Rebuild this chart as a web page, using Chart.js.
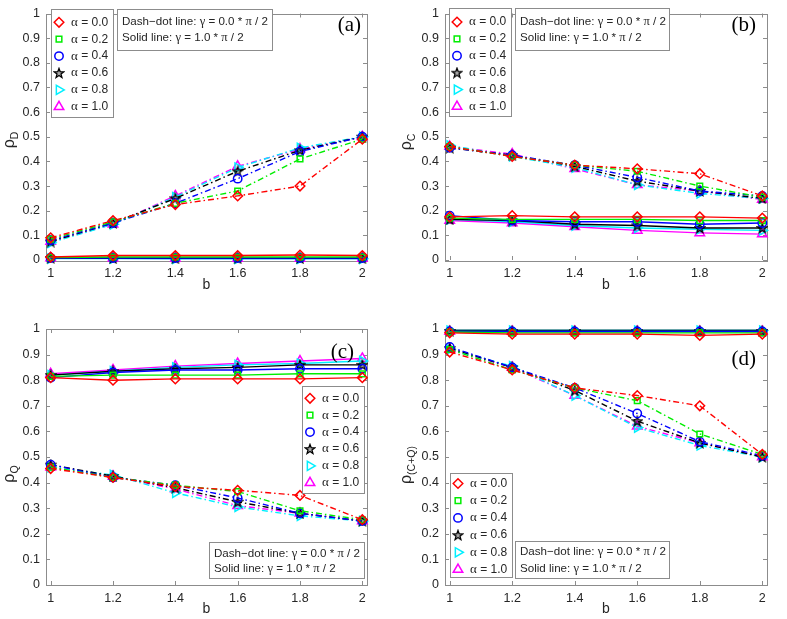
<!DOCTYPE html>
<html><head><meta charset="utf-8">
<script src="https://cdn.jsdelivr.net/npm/chart.js@4.4.1/dist/chart.umd.min.js"></script>
<style>
html,body{margin:0;padding:0;background:#fff;width:787px;height:619px;overflow:hidden}
.p{position:absolute}
canvas{display:block}
</style></head><body>
<div class="p" style="left:0;top:0"><canvas id="cA" width="393" height="300"></canvas></div>
<div class="p" style="left:397px;top:0"><canvas id="cB" width="390" height="300"></canvas></div>
<div class="p" style="left:0;top:300px"><canvas id="cC" width="393" height="319"></canvas></div>
<div class="p" style="left:397px;top:300px"><canvas id="cD" width="390" height="319"></canvas></div>
<script>
// ---------- data ----------
const bValues = [1, 1.2, 1.4, 1.6, 1.8, 2];
const xTicks = [1, 1.2, 1.4, 1.6, 1.8, 2];
const yTicks = [0, 0.1, 0.2, 0.3, 0.4, 0.5, 0.6, 0.7, 0.8, 0.9, 1];
const alphaLabels = ['0.0', '0.2', '0.4', '0.6', '0.8', '1.0'];
const gammaLabels = ['0.0', '1.0'];

// panel (a) rho_D ; rows = alpha 0.0 .. 1.0
const rhoD_dashdot = [
  [0.09, 0.16, 0.225, 0.26, 0.30, 0.49],
  [0.085, 0.155, 0.23, 0.28, 0.41, 0.49],
  [0.08, 0.15, 0.23, 0.33, 0.44, 0.50],
  [0.075, 0.15, 0.25, 0.36, 0.445, 0.50],
  [0.07, 0.145, 0.255, 0.375, 0.455, 0.50],
  [0.075, 0.145, 0.26, 0.38, 0.45, 0.50]
];
const rhoD_solid = [
  [0.012, 0.018, 0.018, 0.018, 0.02, 0.018],
  [0.01, 0.012, 0.012, 0.012, 0.012, 0.012],
  [0.008, 0.008, 0.008, 0.008, 0.008, 0.008],
  [0.008, 0.007, 0.007, 0.007, 0.007, 0.007],
  [0.006, 0.006, 0.005, 0.005, 0.005, 0.005],
  [0.008, 0.007, 0.006, 0.006, 0.006, 0.006]
];
// panel (b) rho_C
const rhoC_dashdot = [
  [0.46, 0.42, 0.385, 0.37, 0.35, 0.26],
  [0.46, 0.42, 0.385, 0.36, 0.30, 0.255],
  [0.455, 0.425, 0.385, 0.335, 0.28, 0.26],
  [0.455, 0.425, 0.38, 0.32, 0.28, 0.25],
  [0.465, 0.42, 0.375, 0.305, 0.27, 0.25],
  [0.46, 0.43, 0.37, 0.305, 0.28, 0.245]
];
const rhoC_solid = [
  [0.175, 0.18, 0.175, 0.175, 0.175, 0.17],
  [0.17, 0.165, 0.165, 0.165, 0.16, 0.16],
  [0.18, 0.16, 0.155, 0.155, 0.145, 0.15],
  [0.165, 0.16, 0.145, 0.14, 0.13, 0.13],
  [0.165, 0.155, 0.14, 0.13, 0.125, 0.12],
  [0.16, 0.15, 0.135, 0.12, 0.11, 0.105]
];
// panel (c) rho_Q
const rhoQ_dashdot = [
  [0.455, 0.42, 0.385, 0.37, 0.35, 0.255],
  [0.46, 0.42, 0.39, 0.365, 0.29, 0.255],
  [0.47, 0.42, 0.39, 0.34, 0.28, 0.25],
  [0.47, 0.425, 0.38, 0.325, 0.28, 0.25],
  [0.46, 0.43, 0.36, 0.305, 0.27, 0.25],
  [0.46, 0.425, 0.375, 0.31, 0.28, 0.25]
];
const rhoQ_solid = [
  [0.81, 0.80, 0.805, 0.805, 0.805, 0.81],
  [0.815, 0.82, 0.82, 0.82, 0.825, 0.825],
  [0.81, 0.83, 0.84, 0.84, 0.845, 0.845],
  [0.82, 0.835, 0.845, 0.85, 0.86, 0.86],
  [0.82, 0.835, 0.85, 0.86, 0.865, 0.875],
  [0.825, 0.84, 0.855, 0.865, 0.875, 0.885]
];
// panel (d) rho_(C+Q)
const rhoCQ_dashdot = [
  [0.91, 0.84, 0.77, 0.74, 0.70, 0.51],
  [0.92, 0.84, 0.77, 0.72, 0.59, 0.51],
  [0.93, 0.85, 0.77, 0.67, 0.56, 0.505],
  [0.925, 0.85, 0.76, 0.64, 0.555, 0.50],
  [0.92, 0.855, 0.74, 0.615, 0.545, 0.50],
  [0.92, 0.85, 0.74, 0.62, 0.555, 0.50]
];
const rhoCQ_solid = [
  [0.985, 0.98, 0.98, 0.98, 0.975, 0.98],
  [0.988, 0.985, 0.985, 0.985, 0.985, 0.985],
  [0.99, 0.99, 0.99, 0.99, 0.99, 0.99],
  [0.992, 0.992, 0.992, 0.992, 0.992, 0.992],
  [0.994, 0.994, 0.994, 0.994, 0.994, 0.994],
  [0.99, 0.99, 0.99, 0.99, 0.99, 0.99]
];

// ---------- styles ----------
const COLORS = ['#ff0000', '#00ee00', '#0000ff', '#000000', '#00f0ff', '#ff00ff'];
const SANS = '"Liberation Sans", Arial, Helvetica, sans-serif';
const SERIF = '"Liberation Serif", "Times New Roman", serif';
const AXIS_COLOR = '#8c8c8c';
const LABEL_COLOR = '#262626';

function makeStar() {
  const c = document.createElement('canvas');
  c.width = 12; c.height = 12;
  const g = c.getContext('2d');
  g.translate(6, 6.4);
  g.beginPath();
  for (let k = 0; k < 10; k++) {
    const r = k % 2 ? 2.1 : 5.0;
    const ang = -Math.PI / 2 + k * Math.PI / 5;
    g.lineTo(r * Math.cos(ang), r * Math.sin(ang));
  }
  g.closePath();
  g.fillStyle = 'rgba(0,0,0,0.35)';
  g.fill();
  g.lineWidth = 1.3;
  g.strokeStyle = '#000';
  g.stroke();
  return c;
}
const STAR = makeStar();
const MARKERS = [
  { style: 'rectRot', rot: 0, r: 4.8 },
  { style: 'rect', rot: 0, r: 4.0 },
  { style: 'circle', rot: 0, r: 4.2 },
  { style: STAR, rot: 0, r: 5 },
  { style: 'triangle', rot: 90, r: 5.3 },
  { style: 'triangle', rot: 0, r: 5.5 }
];
const DASHDOT = [6, 3, 1.5, 3];

function richText(ctx, parts, x, y) {
  for (const [t, f] of parts) {
    ctx.font = f;
    ctx.fillText(t, x, y);
    x += ctx.measureText(t).width;
  }
}

const decor = {
  id: 'decor',
  beforeDatasetsDraw(chart) {
    const ctx = chart.ctx, a = chart.chartArea;
    ctx.save();
    ctx.strokeStyle = AXIS_COLOR;
    ctx.lineWidth = 1;
    ctx.strokeRect(Math.round(a.left) + 0.5, Math.round(a.top) + 0.5, Math.round(a.right - a.left), Math.round(a.bottom - a.top));
    const xs = chart.scales.x, ys = chart.scales.y, TL = 4;
    ctx.beginPath();
    for (const v of xTicks) {
      const px = Math.round(xs.getPixelForValue(v)) + 0.5;
      ctx.moveTo(px, a.bottom); ctx.lineTo(px, a.bottom - TL);
      ctx.moveTo(px, a.top); ctx.lineTo(px, a.top + TL);
    }
    for (const v of yTicks) {
      const py = Math.round(ys.getPixelForValue(v)) + 0.5;
      ctx.moveTo(a.left, py); ctx.lineTo(a.left + TL, py);
      ctx.moveTo(a.right, py); ctx.lineTo(a.right - TL, py);
    }
    ctx.stroke();
    ctx.restore();
  },
  afterDraw(chart, args, o) {
    const ctx = chart.ctx, a = chart.chartArea;
    ctx.save();
    // x title
    ctx.fillStyle = LABEL_COLOR;
    ctx.font = '14px ' + SANS;
    ctx.textAlign = 'center'; ctx.textBaseline = 'middle';
    ctx.fillText('b', (a.left + a.right) / 2, a.bottom + o.xTitleOff);
    // y title (rotated)
    ctx.save();
    ctx.translate(o.yTitle[0], o.yTitle[1]);
    ctx.rotate(-Math.PI / 2);
    ctx.textAlign = 'left'; ctx.textBaseline = 'alphabetic';
    ctx.font = '16px ' + SANS;
    const w1 = ctx.measureText('ρ').width;
    ctx.font = '10.5px ' + SANS;
    const w2 = ctx.measureText(o.sub).width;
    let x0 = -(w1 + w2) / 2;
    ctx.font = '16px ' + SANS;
    ctx.fillText('ρ', x0, 0);
    ctx.font = '10.5px ' + SANS;
    ctx.fillText(o.sub, x0 + w1, 4);
    ctx.restore();
    // panel letter
    ctx.font = '21px ' + SERIF;
    ctx.textAlign = 'right'; ctx.textBaseline = 'middle';
    ctx.fillStyle = '#000';
    ctx.fillText(o.letter, o.letterPos[0], o.letterPos[1]);
    // alpha legend
    const L = o.alphaBox;
    ctx.fillStyle = '#fff';
    ctx.fillRect(L.x, L.y, L.w, L.h);
    ctx.strokeStyle = AXIS_COLOR; ctx.lineWidth = 1;
    ctx.strokeRect(L.x + 0.5, L.y + 0.5, L.w, L.h);
    ctx.textAlign = 'left'; ctx.textBaseline = 'middle';
    for (let i = 0; i < 6; i++) {
      const cy = L.y + L.first + i * L.step;
      const m = MARKERS[i];
      ctx.save();
      ctx.strokeStyle = COLORS[i];
      ctx.fillStyle = 'rgba(0,0,0,0)';
      ctx.lineWidth = 1.5;
      Chart.helpers.drawPoint(ctx, { pointStyle: m.style, rotation: m.rot, radius: m.r, borderWidth: 1.5 }, L.x + 8, cy);
      ctx.restore();
      ctx.fillStyle = LABEL_COLOR;
      richText(ctx, [['α', '13px ' + SERIF], [' = ' + alphaLabels[i], '12px ' + SANS]], L.x + 20, cy);
    }
    // gamma legend
    const G = o.gammaBox;
    ctx.fillStyle = '#fff';
    ctx.fillRect(G.x, G.y, G.w, G.h);
    ctx.strokeStyle = AXIS_COLOR;
    ctx.strokeRect(G.x + 0.5, G.y + 0.5, G.w, G.h);
    ctx.fillStyle = LABEL_COLOR;
    const heads = ['Dash−dot line: ', 'Solid line: '];
    for (let k = 0; k < 2; k++) {
      richText(ctx, [[heads[k], '11.6px ' + SANS], ['γ', '12.5px ' + SERIF], [' = ' + gammaLabels[k] + ' * ', '11.6px ' + SANS], ['π', '12.5px ' + SERIF], [' / 2', '11.6px ' + SANS]], G.x + 5, G.y + G.first + k * G.step);
    }
    ctx.restore();
  }
};

function makePanel(id, W, H, area, dash, solid, deco) {
  const datasets = [];
  for (let i = 0; i < 6; i++) {
    const m = MARKERS[i];
    const base = {
      borderColor: COLORS[i], borderWidth: 1.4,
      pointStyle: m.style, pointRotation: m.rot, pointRadius: m.r,
      pointBorderWidth: 1.5, pointBorderColor: COLORS[i],
      pointBackgroundColor: 'rgba(0,0,0,0)', fill: false, tension: 0, clip: false
    };
    datasets.push(Object.assign({}, base, { data: bValues.map((b, j) => ({ x: b, y: dash[i][j] })), borderDash: DASHDOT }));
    datasets.push(Object.assign({}, base, { data: bValues.map((b, j) => ({ x: b, y: solid[i][j] })) }));
  }
  const tickFont = { family: SANS, size: 12.5 };
  return new Chart(document.getElementById(id), {
    type: 'line',
    data: { datasets },
    plugins: [decor],
    options: {
      responsive: false, animation: false, devicePixelRatio: 1,
      layout: { padding: { left: 0, top: area.top, right: W - area.right, bottom: 0 } },
      plugins: { legend: { display: false }, tooltip: { enabled: false }, decor: deco },
      scales: {
        x: {
          type: 'linear', min: 0.985, max: 2.015,
          afterBuildTicks: s => { s.ticks = xTicks.map(v => ({ value: v })); },
          afterFit: s => { s.height = H - area.bottom; },
          grid: { display: false, drawTicks: false }, border: { display: false },
          ticks: { padding: 6, color: LABEL_COLOR, font: tickFont, maxRotation: 0, autoSkip: false,
                   callback: v => String(Number(v.toFixed(1))) }
        },
        y: {
          type: 'linear', min: 0, max: 1,
          afterBuildTicks: s => { s.ticks = yTicks.map(v => ({ value: v })); },
          afterFit: s => { s.width = area.left; },
          grid: { display: false, drawTicks: false }, border: { display: false },
          ticks: { padding: 6, color: LABEL_COLOR, font: tickFont, autoSkip: false,
                   callback: v => String(Number(v.toFixed(1))) }
        }
      }
    }
  });
}

makePanel('cA', 393, 300, { left: 46, top: 7, right: 367, bottom: 260 }, rhoD_dashdot, rhoD_solid, {
  sub: 'D', yTitle: [14, 140], xTitleOff: 25, letter: '(a)', letterPos: [361, 25],
  alphaBox: { x: 51, y: 9, w: 62, h: 108, first: 13.3, step: 16.9 },
  gammaBox: { x: 117, y: 9, w: 155, h: 41, first: 13, step: 16 }
});
makePanel('cB', 390, 300, { left: 48, top: 7, right: 370, bottom: 260 }, rhoC_dashdot, rhoC_solid, {
  sub: 'C', yTitle: [14, 142], xTitleOff: 25, letter: '(b)', letterPos: [359, 25],
  alphaBox: { x: 52, y: 8, w: 62, h: 108, first: 14, step: 16.9 },
  gammaBox: { x: 118, y: 8, w: 154, h: 42, first: 14, step: 16 }
});
makePanel('cC', 393, 319, { left: 46, top: 29, right: 367, bottom: 285 }, rhoQ_dashdot, rhoQ_solid, {
  sub: 'Q', yTitle: [14, 174], xTitleOff: 24, letter: '(c)', letterPos: [354, 52],
  alphaBox: { x: 302, y: 86, w: 62, h: 107, first: 12.3, step: 16.9 },
  gammaBox: { x: 209, y: 242, w: 155, h: 36, first: 12, step: 15 }
});
makePanel('cD', 390, 319, { left: 48, top: 29, right: 370, bottom: 285 }, rhoCQ_dashdot, rhoCQ_solid, {
  sub: '(C+Q)', yTitle: [14, 165], xTitleOff: 24, letter: '(d)', letterPos: [359, 59],
  alphaBox: { x: 53, y: 173, w: 62, h: 104, first: 10.5, step: 17.2 },
  gammaBox: { x: 118, y: 241, w: 154, h: 37, first: 11, step: 17 }
});
</script>
</body></html>
